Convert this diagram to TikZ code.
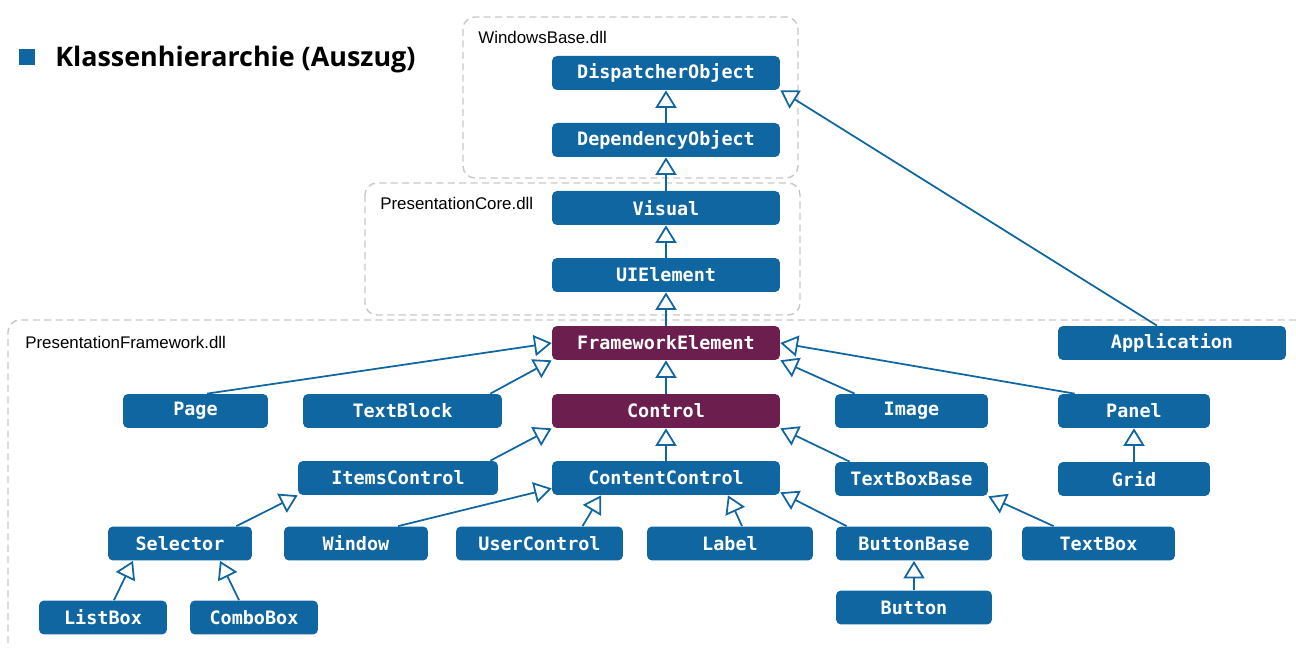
\documentclass[tikz,border=0pt]{standalone}
\usepackage{fontspec}
\setmainfont{Liberation Sans}
\setmonofont{DejaVu Sans Mono}
\newfontfamily\titlefont{Open Sans}
\usetikzlibrary{calc}
\usetikzlibrary{arrows.meta}

\definecolor{boxblue}{RGB}{16,102,161}
\definecolor{boxpurple}{RGB}{108,31,79}
\definecolor{dllgray}{RGB}{200,200,200}

\tikzset{
  cls/.style={fill=boxblue, rounded corners=0.1cm, minimum height=0.68cm, inner sep=0pt,
    text=white, font=\ttfamily\bfseries\fontsize{10.5}{12}\selectfont},
  clsx/.style={cls, fill=boxpurple},
  inh/.style={draw=boxblue, line width=1pt,
    -{Triangle[open, length=10pt, width=12pt, fill=white]}},
  dll/.style={draw=dllgray, line width=0.8pt, dash pattern=on 4pt off 2.5pt, rounded corners=0.24cm},
  dlllabel/.style={anchor=west, inner sep=0pt, font=\fontsize{9.6}{11}\selectfont}
}

\begin{document}
\begin{tikzpicture}[x=0.02cm, y=-0.02cm]
\useasboundingbox (0,0) rectangle (1296,648);

% title
\fill[boxblue] (19,49) rectangle (35,65);
\node[anchor=base west, inner sep=0pt, font=\titlefont\bfseries\fontsize{15.3}{18}\selectfont] (title) at (55,67) {Klassenhierarchie (Auszug)};

% assemblies
\draw[dll] (463,17) rectangle (798,178);
\draw[dll] (365,183) rectangle (800,315);
\draw[dll] (1296,320) -| (8,648);
\node[dlllabel] (wbase) at (478,37) {WindowsBase.dll};
\node[dlllabel] (pcore) at (380,203) {PresentationCore.dll};
\node[dlllabel] (pfw) at (25,342) {PresentationFramework.dll};

% classes
\node[cls, minimum width=4.56cm] (dispobj) at (666,73) {DispatcherObject};
\node[cls, minimum width=4.56cm] (depobj) at (666,140) {DependencyObject};
\node[cls, minimum width=4.56cm] (visual) at (666,208) {Visual};
\node[cls, minimum width=4.56cm] (uielem) at (666,275) {UIElement};
\node[clsx, minimum width=4.56cm] (fwelem) at (666,343) {FrameworkElement};
\node[cls, minimum width=4.56cm] (app) at (1172,343) {Application};

\node[cls, minimum width=2.9cm] (page) at (195.5,411) {Page};
\node[cls, minimum width=3.98cm] (textblock) at (402.5,411) {TextBlock};
\node[clsx, minimum width=4.56cm] (control) at (666,411) {Control};
\node[cls, minimum width=3.06cm] (image) at (911.5,411) {Image};
\node[cls, minimum width=3.04cm] (panel) at (1134,411) {Panel};

\node[cls, minimum width=4.0cm] (itemsctrl) at (398,478) {ItemsControl};
\node[cls, minimum width=4.56cm] (contctrl) at (666,478) {ContentControl};
\node[cls, minimum width=3.06cm] (textboxbase) at (911.5,479) {TextBoxBase};
\node[cls, minimum width=3.04cm] (grid) at (1134,479) {Grid};

\node[cls, minimum width=2.88cm] (selector) at (180,543.5) {Selector};
\node[cls, minimum width=2.88cm] (window) at (356,543.5) {Window};
\node[cls, minimum width=3.34cm] (userctrl) at (539.5,543.5) {UserControl};
\node[cls, minimum width=3.32cm] (label) at (730,543.5) {Label};
\node[cls, minimum width=3.12cm] (buttonbase) at (914,543.5) {ButtonBase};
\node[cls, minimum width=3.06cm] (textbox) at (1098.5,543.5) {TextBox};

\node[cls, minimum width=2.56cm] (listbox) at (103,617.5) {ListBox};
\node[cls, minimum width=2.56cm] (combobox) at (254,617.5) {ComboBox};
\node[cls, minimum width=3.12cm] (button) at (914,607.5) {Button};

% inheritance
\draw[inh] (depobj) -- (dispobj);
\draw[inh] (visual) -- (depobj);
\draw[inh] (uielem) -- (visual);
\draw[inh] (fwelem) -- (uielem);
\draw[inh] ([xshift=-0.3cm]app.north) -- (dispobj.south east);
\draw[inh] (control) -- (fwelem);
\draw[inh] ([xshift=0.23cm]page.north) -- (fwelem.west);
\draw[inh] ([xshift=-0.24cm]textblock.north east) -- (fwelem.south west);
\draw[inh] ([xshift=0.4cm]image.north west) -- (fwelem.south east);
\draw[inh] ([xshift=0.34cm]panel.north west) -- (fwelem.east);
\draw[inh] (grid) -- (panel);

\draw[inh] (contctrl) -- (control);
\draw[inh] ([xshift=-0.16cm]itemsctrl.north east) -- (control.south west);
\draw[inh] ([xshift=0.3cm]textboxbase.north west) -- (control.south east);

\draw[inh] ([xshift=-0.32cm]selector.north east) -- (itemsctrl.south west);
\draw[inh] ([xshift=0.84cm]window.north) -- ([yshift=0.14cm]contctrl.south west);
\draw[inh] ([xshift=0.86cm]userctrl.north) -- ([xshift=-1.3cm]contctrl.south);
\draw[inh] ([xshift=0.24cm]label.north) -- ([xshift=1.24cm]contctrl.south);
\draw[inh] ([xshift=0.22cm]buttonbase.north west) -- ([yshift=0.06cm]contctrl.south east);
\draw[inh] ([xshift=0.64cm]textbox.north west) -- (textboxbase.south east);
\draw[inh] (button) -- (buttonbase);

\draw[inh] ([xshift=0.22cm]listbox.north) -- ([xshift=-0.94cm]selector.south);
\draw[inh] ([xshift=-0.3cm]combobox.north) -- ([xshift=0.8cm]selector.south);
\end{tikzpicture}
\end{document}
